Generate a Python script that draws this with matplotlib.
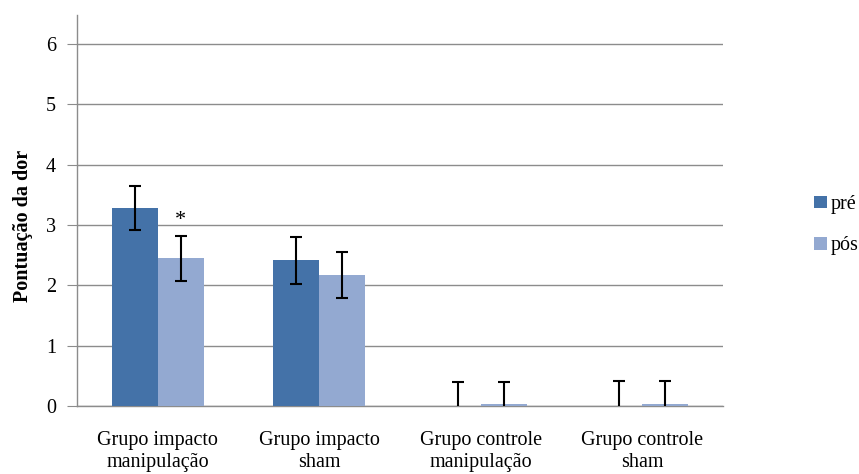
import numpy as np
import matplotlib.pyplot as plt

# pain scores per group, before and after
grupos = ["Grupo impacto\nmanipulação", "Grupo impacto\nsham",
          "Grupo controle\nmanipulação", "Grupo controle\nsham"]
pre = [3.28, 2.42, 0.0, 0.0]
pos = [2.45, 2.17, 0.03, 0.03]
erro_pre = [0.37, 0.39, 0.39, 0.41]
erro_pos = [0.37, 0.38, 0.36, 0.38]

plt.rcParams['font.family'] = ['Liberation Serif', 'DejaVu Serif']

fig = plt.figure(figsize=(8.59, 4.74), dpi=100)
ax = fig.add_axes([0.0896, 0.1435, 0.752, 0.8245])

x = np.arange(len(grupos))
w = 0.285
ax.bar(x - w/2, pre, w, color="#4472a8", label="pré", zorder=3)
ax.bar(x + w/2, pos, w, color="#93a9d1", label="pós", zorder=3)
ax.errorbar(x - w/2, pre, yerr=erro_pre, fmt="none", ecolor="black",
            elinewidth=1.5, capsize=4.5, capthick=1.5, zorder=4)
ax.errorbar(x + w/2, pos, yerr=erro_pos, fmt="none", ecolor="black",
            elinewidth=1.5, capsize=4.5, capthick=1.5, zorder=4)

# significance mark over the first group's post bar
ax.text(x[0] + w/2, erro_pos[0] + pos[0] + 0.25, "*", ha="center", va="center",
        fontsize=16)

ax.set_xlim(-0.5, 3.5)
ax.set_ylim(0, 6.48)
ax.set_yticks(range(7))
ax.set_xticks(x)
ax.set_xticklabels(grupos, fontsize=14.5, linespacing=1.2)
ax.tick_params(axis="y", labelsize=14.5, length=7, color="#8c8c8c", pad=8)
ax.tick_params(axis="x", length=0, pad=18)
ax.yaxis.grid(True, color="#8c8c8c", linewidth=1)
ax.set_axisbelow(True)
for s in ["top", "right"]:
    ax.spines[s].set_visible(False)
ax.spines["left"].set_color("#8c8c8c")
ax.spines["bottom"].set_color("#8c8c8c")
ax.spines["left"].set_linewidth(1)
ax.spines["bottom"].set_linewidth(1)

ax.set_ylabel("Pontuação da dor", fontsize=14.5, fontweight="bold")
ax.yaxis.set_label_coords(-0.068, 0.46)

fig.legend(loc="center left", bbox_to_anchor=(0.927, 0.525), frameon=False,
           fontsize=14.5, handlelength=0.6, handleheight=0.6, handletextpad=0.2,
           labelspacing=1.1)

fig.savefig("out.png", dpi=100)
